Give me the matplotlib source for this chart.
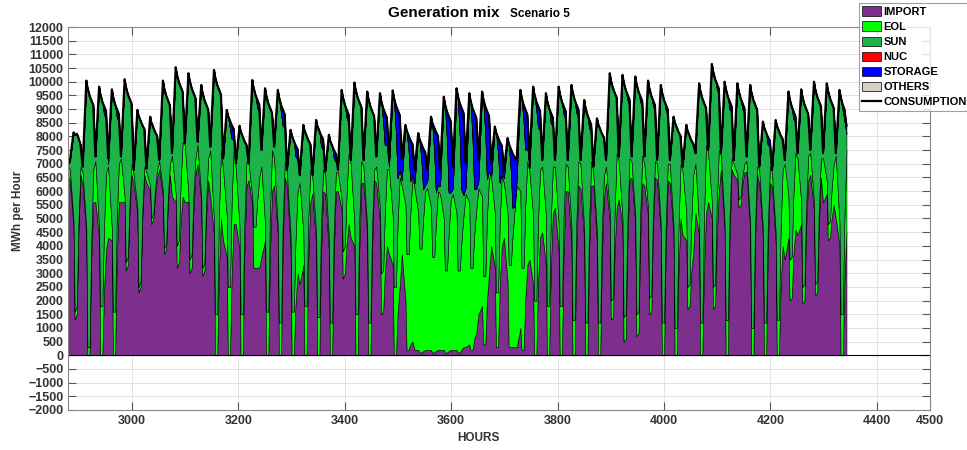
import numpy as np
import matplotlib
matplotlib.use("Agg")
import matplotlib.pyplot as plt
from matplotlib.patches import Patch
from matplotlib.lines import Line2D

plt.rcParams['font.family'] = ['Liberation Sans', 'DejaVu Sans']
plt.rcParams['font.weight'] = 'bold'

# hourly run starts at hour 2880, 61 days; each day is sampled at these hours
start_hour = 2880
day_offsets = [3, 10, 12, 16, 19, 23]   # night, peak, noon, afternoon, evening, late

# first sample of the run (hour 2880): consumption, import, eol
first_sample = [7000, 6500, 400]

# consumption per day (MWh)
consumption = [
    [7100, 8150, 8050, 8100, 7950, 7700], [6900, 10040, 9790, 9490, 9340, 9140],
    [7270, 9820, 9570, 9270, 9120, 8920], [7200, 9720, 9470, 9170, 9020, 8820],
    [7270, 10090, 9840, 9540, 9390, 9190], [6780, 8970, 8770, 8570, 8420, 8270],
    [6840, 8720, 8520, 8320, 8170, 8020], [7140, 10040, 9790, 9490, 9340, 9140],
    [7390, 10530, 10280, 9980, 9830, 9630], [7750, 10310, 10060, 9760, 9610, 9410],
    [7810, 9880, 9630, 9330, 9180, 8980], [7630, 10430, 10180, 9880, 9730, 9530],
    [7200, 8970, 8770, 8570, 8420, 8270], [7020, 8390, 8190, 7990, 7840, 7690],
    [7020, 10060, 9810, 9510, 9360, 9160], [7510, 9760, 9510, 9210, 9060, 8860],
    [7630, 9700, 9450, 9150, 9000, 8800], [6780, 8240, 8040, 7840, 7690, 7540],
    [6600, 8420, 8220, 8020, 7870, 7720], [6600, 8600, 8400, 8200, 8050, 7900],
    [6720, 8060, 7860, 7660, 7510, 7360], [6780, 9700, 9450, 9150, 9000, 8800],
    [7140, 9970, 9720, 9420, 9270, 9070], [7140, 9640, 9390, 9090, 8940, 8740],
    [7270, 9580, 9330, 9030, 8880, 8680], [7200, 9680, 9430, 9130, 8980, 8780],
    [7200, 8420, 8220, 8020, 7870, 7720], [6780, 8120, 7920, 7720, 7570, 7420],
    [6780, 8720, 8520, 8320, 8170, 8020], [6780, 9450, 9200, 8900, 8750, 8550],
    [6900, 9760, 9510, 9210, 9060, 8860], [7020, 9580, 9330, 9030, 8880, 8680],
    [7140, 9640, 9390, 9090, 8940, 8740], [7020, 8360, 8160, 7960, 7810, 7660],
    [6780, 7940, 7740, 7540, 7390, 7240], [7140, 9700, 9450, 9150, 9000, 8800],
    [7140, 9820, 9570, 9270, 9120, 8920], [7140, 9580, 9330, 9030, 8880, 8680],
    [7140, 9820, 9570, 9270, 9120, 8920], [7140, 9880, 9630, 9330, 9180, 8980],
    [7140, 9330, 9080, 8780, 8630, 8430], [6900, 8660, 8460, 8260, 8110, 7960],
    [7140, 10310, 10060, 9760, 9610, 9410], [7270, 10250, 10000, 9700, 9550, 9350],
    [7270, 10190, 9940, 9640, 9490, 9290], [7270, 10040, 9790, 9490, 9340, 9140],
    [7140, 9880, 9630, 9330, 9180, 8980], [7140, 8720, 8520, 8320, 8170, 8020],
    [6900, 8420, 8220, 8020, 7870, 7720], [7390, 9940, 9690, 9390, 9240, 9040],
    [7510, 10650, 10400, 10100, 9950, 9750], [7390, 10000, 9750, 9450, 9300, 9100],
    [7140, 9940, 9690, 9390, 9240, 9040], [7270, 9880, 9630, 9330, 9180, 8980],
    [6900, 8540, 8340, 8140, 7990, 7840], [6780, 8600, 8400, 8200, 8050, 7900],
    [7140, 9640, 9390, 9090, 8940, 8740], [7390, 9720, 9470, 9170, 9020, 8820],
    [7510, 10000, 9750, 9450, 9300, 9100], [7390, 9940, 9690, 9390, 9240, 9040],
    [7390, 9700, 9450, 9150, 9000, 8400],
]

# import per day
imports = [
    [6400, 4700, 1300, 1500, 4500, 6600], [6200, 4400, 0, 0, 3400, 5600],
    [5600, 4300, 0, 0, 2300, 3900], [4300, 4200, 0, 0, 3400, 5600],
    [5600, 5600, 3100, 3300, 5200, 6600], [6200, 5200, 2300, 2500, 4900, 6600],
    [6300, 6000, 4800, 5000, 5800, 6500], [6800, 5800, 3700, 3900, 5400, 6600],
    [5800, 5600, 3200, 3400, 4800, 5800], [5600, 5600, 3000, 3200, 5200, 6600],
    [7000, 5600, 2900, 3100, 5000, 6400], [5800, 4400, 0, 0, 3000, 5000],
    [4200, 3600, 0, 0, 2900, 4800], [4800, 3900, 0, 0, 3700, 6200],
    [6400, 5500, 3200, 3200, 3200, 3200], [3600, 4200, 0, 0, 3600, 6000],
    [6200, 4400, 0, 0, 3900, 6500], [6200, 3900, 0, 0, 1800, 3000],
    [2600, 3300, 0, 0, 3400, 5600], [5900, 4000, 0, 0, 3600, 6000],
    [5900, 3800, 0, 0, 3600, 6000], [6000, 5300, 2800, 3000, 4000, 4800],
    [4300, 4000, 0, 0, 3800, 6300], [6300, 4400, 0, 0, 3800, 6400],
    [6300, 4900, 1500, 1600, 3000, 4000], [3700, 3300, 0, 0, 1500, 2500],
    [3700, 2000, 200, 200, 400, 500], [200, 200, 100, 100, 150, 200],
    [200, 200, 100, 100, 150, 200], [200, 200, 100, 100, 150, 200],
    [200, 200, 100, 100, 200, 300], [300, 400, 200, 200, 600, 800],
    [1500, 1800, 400, 400, 2000, 3000], [4000, 3200, 300, 300, 2500, 4000],
    [4300, 2700, 300, 300, 300, 300], [300, 1000, 200, 200, 2000, 3300],
    [3500, 2600, 0, 0, 2600, 4300], [4500, 3300, 0, 0, 3100, 5200],
    [5400, 3800, 0, 0, 3600, 6000], [6000, 4200, 0, 0, 3700, 6200],
    [6100, 4200, 0, 0, 3700, 6200], [6200, 4100, 0, 0, 3500, 5800],
    [6300, 4900, 1300, 1400, 3800, 5400], [5700, 4700, 500, 600, 4000, 6400],
    [6500, 4800, 700, 800, 4100, 6300], [6200, 5100, 1500, 1600, 4500, 6500],
    [6400, 4500, 0, 0, 3800, 6400], [6300, 4400, 0, 0, 3000, 5000],
    [4400, 4200, 1700, 1800, 3000, 3800], [5200, 4400, 0, 0, 3100, 5200],
    [5600, 5000, 1700, 1800, 4300, 6000], [6800, 4600, 0, 0, 4100, 6800],
    [6600, 6400, 5400, 5500, 6200, 6700], [6700, 4600, 0, 0, 4000, 6600],
    [6300, 4300, 0, 0, 3800, 6300], [6200, 4100, 0, 0, 2400, 4000],
    [3500, 4300, 2000, 2100, 3600, 4600], [4400, 4800, 1900, 2000, 4600, 6400],
    [6600, 5300, 2200, 2300, 4800, 6500], [5600, 5900, 4200, 4300, 5000, 5500],
    [5000, 4000, 0, 0, 2700, 4500],
]

# wind (EOL) per day
eol = [
    [400, 200, 300, 300, 300, 300], [500, 200, 300, 300, 700, 1200],
    [1500, 300, 1800, 1800, 2300, 2800], [2600, 400, 1600, 1600, 1500, 1400],
    [1600, 200, 300, 300, 350, 400], [400, 200, 200, 200, 250, 300],
    [400, 200, 200, 200, 250, 300], [300, 200, 200, 200, 300, 400],
    [1500, 300, 800, 800, 1400, 2000], [2100, 300, 500, 500, 550, 600],
    [700, 200, 300, 300, 550, 800], [1700, 500, 1500, 1500, 2000, 2500],
    [2600, 1500, 2500, 2500, 2650, 2800], [2000, 800, 1500, 1500, 1200, 900],
    [600, 300, 1500, 1500, 2400, 3300], [3300, 600, 1600, 1600, 1550, 1500],
    [1000, 300, 1200, 1200, 900, 600], [500, 500, 1600, 1600, 2300, 3000],
    [3700, 1200, 1800, 1800, 1500, 1200], [600, 500, 1400, 1400, 1100, 800],
    [700, 500, 1200, 1200, 950, 700], [700, 400, 1000, 1000, 1800, 2600],
    [2700, 800, 1500, 1500, 1150, 800], [600, 300, 1200, 1200, 800, 400],
    [600, 500, 1500, 1500, 2150, 2800], [3100, 1800, 2500, 2500, 3250, 4000],
    [2500, 3500, 3500, 3500, 4750, 6000], [5900, 5000, 3800, 3800, 4800, 5800],
    [5900, 5200, 3500, 3500, 4650, 5800], [5700, 4800, 3000, 3000, 4250, 5500],
    [5700, 5000, 3000, 3000, 3900, 4800], [5600, 5200, 3000, 3000, 3750, 4500],
    [4600, 4000, 2500, 2500, 3000, 3500], [2500, 2000, 2000, 2000, 2300, 2600],
    [2000, 2500, 3000, 3000, 4000, 5000], [5900, 5000, 3000, 3000, 3400, 3800],
    [3200, 2500, 2000, 2000, 2250, 2500], [2400, 1800, 1800, 1800, 1750, 1700],
    [1500, 1000, 1800, 1800, 1400, 1000], [900, 500, 1300, 1300, 1100, 900],
    [900, 400, 1200, 1200, 1050, 900], [500, 400, 1200, 1200, 1000, 800],
    [600, 400, 700, 700, 1350, 2000], [1400, 300, 900, 900, 850, 800],
    [600, 300, 800, 800, 900, 1000], [800, 300, 600, 600, 600, 600],
    [600, 300, 1200, 1200, 900, 600], [700, 300, 1000, 1000, 1500, 2000],
    [2300, 1000, 800, 800, 1800, 2800], [1800, 400, 1200, 1200, 1850, 2500],
    [1800, 600, 800, 800, 1150, 1500], [500, 200, 1300, 1300, 850, 400],
    [400, 200, 300, 300, 300, 300], [400, 200, 1000, 1000, 650, 300],
    [500, 300, 1200, 1200, 900, 600], [500, 400, 1300, 1300, 2050, 2800],
    [3500, 1500, 1500, 1500, 2150, 2800], [2800, 800, 600, 600, 750, 900],
    [800, 300, 400, 400, 550, 700], [1600, 500, 600, 600, 1050, 1500],
    [2300, 800, 1500, 1500, 2250, 3000],
]

# storage discharge, only on the days where it runs
storage = {
    2: [0, 0, 0, 0, 300, 300], 3: [200, 0, 0, 0, 300, 300],
    12: [0, 0, 0, 300, 500, 400], 14: [0, 0, 0, 0, 300, 300],
    16: [0, 0, 0, 300, 600, 500], 17: [0, 0, 0, 0, 400, 400],
    19: [0, 0, 0, 0, 400, 400], 20: [0, 0, 0, 0, 300, 300],
    21: [0, 0, 0, 0, 300, 300], 24: [0, 0, 0, 500, 1200, 1000],
    25: [300, 0, 0, 1000, 2500, 2000], 26: [800, 0, 0, 600, 1500, 1100],
    27: [500, 0, 0, 600, 1500, 1200], 28: [400, 0, 0, 900, 2200, 1800],
    29: [600, 0, 0, 1100, 2800, 2600], 30: [800, 0, 0, 1200, 3000, 3000],
    31: [900, 0, 0, 1100, 2800, 2600], 32: [800, 0, 0, 1000, 2500, 2000],
    33: [600, 0, 0, 600, 1500, 900], 34: [300, 0, 0, 800, 2000, 1800],
    35: [700, 0, 0, 600, 1500, 1200], 36: [300, 0, 0, 300, 800, 700],
    37: [0, 0, 0, 0, 400, 300], 38: [0, 0, 0, 0, 300, 300],
    39: [0, 0, 0, 0, 300, 300], 40: [0, 0, 0, 0, 300, 300],
    43: [0, 0, 0, 0, 200, 200], 44: [0, 0, 0, 0, 200, 200],
    45: [0, 0, 0, 0, 200, 200], 46: [0, 0, 0, 0, 200, 200],
    50: [0, 0, 0, 0, 200, 200], 51: [0, 0, 0, 0, 300, 200],
    52: [0, 0, 0, 0, 200, 200], 54: [0, 0, 0, 0, 300, 200],
    56: [0, 0, 0, 0, 300, 200], 60: [0, 0, 0, 200, 400, 300],
}

n_days = len(consumption)
day_hours = (start_hour + 24 * np.arange(n_days)[:, None] + np.array(day_offsets)).ravel()
hours = np.concatenate([[start_hour], day_hours])

sto_tab = np.zeros((n_days, len(day_offsets)))
for d, row in storage.items():
    sto_tab[d] = row

cons = np.concatenate([[first_sample[0]], np.ravel(consumption)]).astype(float)
imp = np.concatenate([[first_sample[1]], np.ravel(imports)]).astype(float)
wind = np.concatenate([[first_sample[2]], np.ravel(eol)]).astype(float)
sto = np.concatenate([[0], sto_tab.ravel()])
nuc = np.zeros_like(cons)
others = np.zeros_like(cons)
# solar covers what is left of the demand
sun = np.maximum(cons - imp - wind - sto, 0)

c_import = '#7E2F8E'
c_eol = '#00FF00'
c_sun = '#1DB34B'
c_nuc = '#FF0000'
c_sto = '#0000FF'
c_oth = '#D4D0C8'

fig = plt.figure(figsize=(9.67, 4.5), dpi=100)
ax = fig.add_axes([0.0706, 0.0889, 0.8911, 0.8511])

ax.stackplot(hours, imp, wind, sun, nuc, sto, others,
             colors=[c_import, c_eol, c_sun, c_nuc, c_sto, c_oth],
             edgecolor='black', linewidth=0.4)
ax.plot(hours, cons, color='black', lw=1.6)
ax.axhline(0, color='black', lw=0.8)

ax.set_xlim(2880, 4500)
ax.set_ylim(-2000, 12000)
ax.set_xticks([3000, 3200, 3400, 3600, 3800, 4000, 4200, 4400, 4500])
ax.set_yticks(np.arange(-2000, 12001, 500))
ax.grid(True, color='#E3E3E3', lw=0.7)
ax.set_axisbelow(True)
ax.tick_params(direction='in', length=6, width=0.8, color='#555555',
               labelsize=9, labelcolor='#333333', top=True, right=True)
for lab in ax.get_xticklabels() + ax.get_yticklabels():
    lab.set_fontweight('bold')
for sp in ax.spines.values():
    sp.set_color('#888888')
    sp.set_linewidth(0.8)

fig.text(388 / 967, 1 - 17 / 450, 'Generation mix', fontsize=11,
         fontweight='bold', ha='left', va='baseline')
fig.text(510 / 967, 1 - 17 / 450, 'Scenario 5', fontsize=8.5,
         fontweight='bold', ha='left', va='baseline')
fig.text(478 / 967, 1 - 438 / 450, 'HOURS', fontsize=8.5,
         fontweight='bold', ha='center', va='center', color='#333333')
fig.text(18 / 967, 1 - 211 / 450, 'MWh per Hour', fontsize=8.5,
         fontweight='bold', ha='center', va='center', rotation=90,
         color='#333333')

handles = [
    Patch(facecolor=c_import, edgecolor='black', lw=0.5),
    Patch(facecolor=c_eol, edgecolor='black', lw=0.5),
    Patch(facecolor=c_sun, edgecolor='black', lw=0.5),
    Patch(facecolor=c_nuc, edgecolor='black', lw=0.5),
    Patch(facecolor=c_sto, edgecolor='black', lw=0.5),
    Patch(facecolor=c_oth, edgecolor='black', lw=0.5),
    Line2D([], [], color='black', lw=1.6),
]
labels = ['IMPORT', 'EOL', 'SUN', 'NUC', 'STORAGE', 'OTHERS', 'CONSUMPTION']
leg = fig.legend(handles, labels, loc='upper left',
                 bbox_to_anchor=(859 / 967, 1 - 3 / 450),
                 fontsize=8, frameon=True, fancybox=False,
                 edgecolor='#888888', borderpad=0.3, labelspacing=0.42,
                 handlelength=1.7, handleheight=0.9, handletextpad=0.2,
                 borderaxespad=0)
for t in leg.get_texts():
    t.set_fontweight('bold')
leg.get_frame().set_linewidth(0.8)

fig.savefig('out.png', dpi=100)
